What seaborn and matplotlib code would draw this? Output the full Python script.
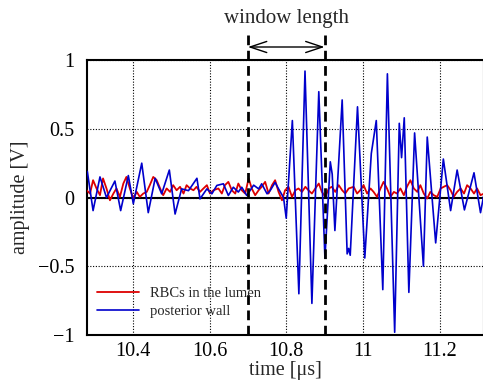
import numpy as np
import pandas as pd
import matplotlib
matplotlib.use("Agg")
import matplotlib.pyplot as plt
import seaborn as sns

# red trace: RBCs in the lumen
red_t = [10.279, 10.288, 10.296, 10.305, 10.314, 10.322, 10.331, 10.340, 10.349, 10.357,
         10.366, 10.375, 10.383, 10.392, 10.401, 10.410, 10.418, 10.427, 10.436, 10.444,
         10.453, 10.462, 10.471, 10.479, 10.488, 10.497, 10.505, 10.514, 10.523, 10.532,
         10.540, 10.549, 10.558, 10.566, 10.575, 10.584, 10.593, 10.601, 10.610,
         10.623, 10.632, 10.640, 10.649, 10.658, 10.667, 10.675, 10.684, 10.693, 10.702,
         10.710, 10.719, 10.728, 10.736, 10.745, 10.754, 10.763, 10.771, 10.780, 10.789,
         10.797, 10.806, 10.815, 10.824, 10.832, 10.841, 10.850, 10.858, 10.867, 10.876,
         10.885, 10.893, 10.902, 10.911, 10.919, 10.928, 10.937, 10.946, 10.954, 10.963,
         10.976, 10.985, 10.993, 11.002, 11.011, 11.020, 11.028, 11.037, 11.046, 11.054,
         11.063, 11.072, 11.081, 11.089, 11.098, 11.107, 11.115, 11.124, 11.133, 11.142,
         11.150, 11.159, 11.168, 11.176, 11.185, 11.194, 11.203, 11.211, 11.220, 11.229,
         11.237, 11.246, 11.255, 11.264, 11.272, 11.281, 11.290, 11.298, 11.307, 11.316]
red_v = [0.053, 0.029, 0.126, 0.066, 0.017, 0.139, 0.066, -0.020, 0.029, 0.066,
         0.005, 0.102, 0.150, 0.066, -0.007, 0.041, 0.005, 0.029, 0.041, 0.090,
         0.150, 0.126, 0.066, 0.017, 0.066, 0.041, 0.090, 0.053, 0.078, 0.029,
         0.090, 0.066, 0.053, 0.078, 0.041, 0.066, 0.090, 0.029, 0.053,
         0.066, 0.029, 0.090, 0.114, 0.053, 0.029, 0.102, 0.053, 0.029, 0.139,
         0.066, 0.017, 0.053, 0.078, 0.114, 0.029, 0.090, 0.126, 0.041, -0.020,
         0.053, 0.078, 0.005, 0.053, 0.066, 0.041, 0.078, 0.053, 0.029, 0.066,
         0.102, 0.041, 0.005, 0.066, 0.078, 0.041, 0.090, 0.053, 0.029, 0.066,
         0.078, 0.029, 0.053, 0.090, 0.029, 0.066, 0.041, 0.005, 0.066, 0.114,
         0.066, 0.005, 0.041, 0.029, 0.066, 0.017, 0.078, 0.126, 0.066, 0.041,
         0.090, 0.029, -0.007, 0.041, 0.017, 0.005, 0.066, 0.078, 0.090, 0.053,
         0.005, 0.041, 0.066, 0.029, 0.090, 0.066, 0.029, 0.066, 0.017, 0.029]

# blue trace: posterior wall
blue_t = [10.281, 10.296, 10.314, 10.331, 10.353, 10.368, 10.388, 10.401, 10.423, 10.440,
          10.458, 10.475, 10.495, 10.510, 10.527, 10.545, 10.567, 10.575, 10.593, 10.606,
          10.619, 10.636, 10.649, 10.662, 10.675, 10.684, 10.697, 10.715, 10.728, 10.736,
          10.750, 10.758, 10.771, 10.780, 10.793, 10.800, 10.816, 10.833, 10.849, 10.867,
          10.885, 10.901, 10.915, 10.920, 10.927, 10.946, 10.959, 10.963, 10.967, 10.986,
          11.005, 11.022, 11.035, 11.052, 11.064, 11.083, 11.095, 11.101, 11.108, 11.120,
          11.135, 11.158, 11.168, 11.190, 11.210, 11.229, 11.246, 11.265, 11.290, 11.307,
          11.315]
blue_v = [0.19, -0.095, 0.15, 0.0, 0.12, -0.095, 0.16, -0.045, 0.25, -0.11,
          0.14, 0.027, 0.20, -0.12, 0.063, 0.05, 0.14, -0.01, 0.063, 0.027,
          0.088, 0.10, 0.015, 0.075, 0.04, 0.075, 0.015, 0.09, 0.063, 0.10,
          0.027, 0.05, 0.11, 0.063, 0.0, -0.15, 0.56, -0.70, 0.92, -0.77,
          0.77, -0.44, 0.26, 0.17, -0.24, 0.71, -0.41, -0.37, -0.42, 0.66,
          -0.44, 0.32, 0.56, -0.67, 0.90, -0.98, 0.54, 0.29, 0.58, -0.69,
          0.47, -0.50, 0.44, -0.33, 0.28, -0.095, 0.20, -0.09, 0.18, -0.11,
          0.01]

window = [10.7, 10.9]
x_ticks = [10.4, 10.6, 10.8, 11.0, 11.2]
x_labels = ["10.4", "10.6", "10.8", "11", "11.2"]
y_ticks = [-1, -0.5, 0, 0.5, 1]
y_labels = ["\u22121", "\u22120.5", "0", "0.5", "1"]

sns.set_style("white")
plt.rcParams['font.family'] = ['Liberation Serif', 'DejaVu Serif']

fig = plt.figure(figsize=(4.83, 3.90), dpi=100)
ax = fig.add_axes([0.180, 0.141, 0.822, 0.705])

red_df = pd.DataFrame({"t": red_t, "v": red_v})
blue_df = pd.DataFrame({"t": blue_t, "v": blue_v})

ax.axhline(0, color="black", lw=1.5, zorder=1)
sns.lineplot(data=red_df, x="t", y="v", ax=ax, color="#dd0000", lw=1.3,
             label="RBCs in the lumen", zorder=3)
sns.lineplot(data=blue_df, x="t", y="v", ax=ax, color="#0000cc", lw=1.2,
             label="posterior wall", zorder=4)

# window markers
for w in window:
    ax.plot([w, w], [-1, 1.18], color="black", lw=2.0, dashes=(3.5, 2.0),
            clip_on=False, zorder=5)
ax.annotate("", xy=(window[0], 1.095), xytext=(window[1], 1.095),
            arrowprops=dict(arrowstyle="<->,head_length=1.2,head_width=0.4",
                            color="black", lw=1.0, shrinkA=0, shrinkB=0),
            annotation_clip=False)
ax.text(sum(window) / 2, 1.305, "window length", ha="center", va="center", fontsize=15)

ax.set_xlim(10.28, 11.316)
ax.set_ylim(-1, 1)
ax.set_xticks(x_ticks)
ax.set_xticklabels(x_labels)
ax.set_yticks(y_ticks)
ax.set_yticklabels(y_labels)
ax.tick_params(direction="in", length=4, width=1, labelsize=14.5, colors="black")
ax.tick_params(axis="x", pad=5)
ax.tick_params(axis="y", pad=9)
ax.grid(True, color="black", ls=(0, (1, 1.5)), lw=0.8)
for s in ax.spines.values():
    s.set_color("black")
    s.set_linewidth(1.5)

ax.set_xlabel("time [\u03bcs]", fontsize=14.5, labelpad=0)
ax.set_ylabel("amplitude [V]", fontsize=14.5, labelpad=6)

leg = ax.legend(loc="lower left", frameon=False, fontsize=10.5, handlelength=2.9,
                handletextpad=0.7, borderaxespad=0.3, labelspacing=0.35,
                bbox_to_anchor=(0.0, 0.025))

fig.savefig("out.png", dpi=100)
